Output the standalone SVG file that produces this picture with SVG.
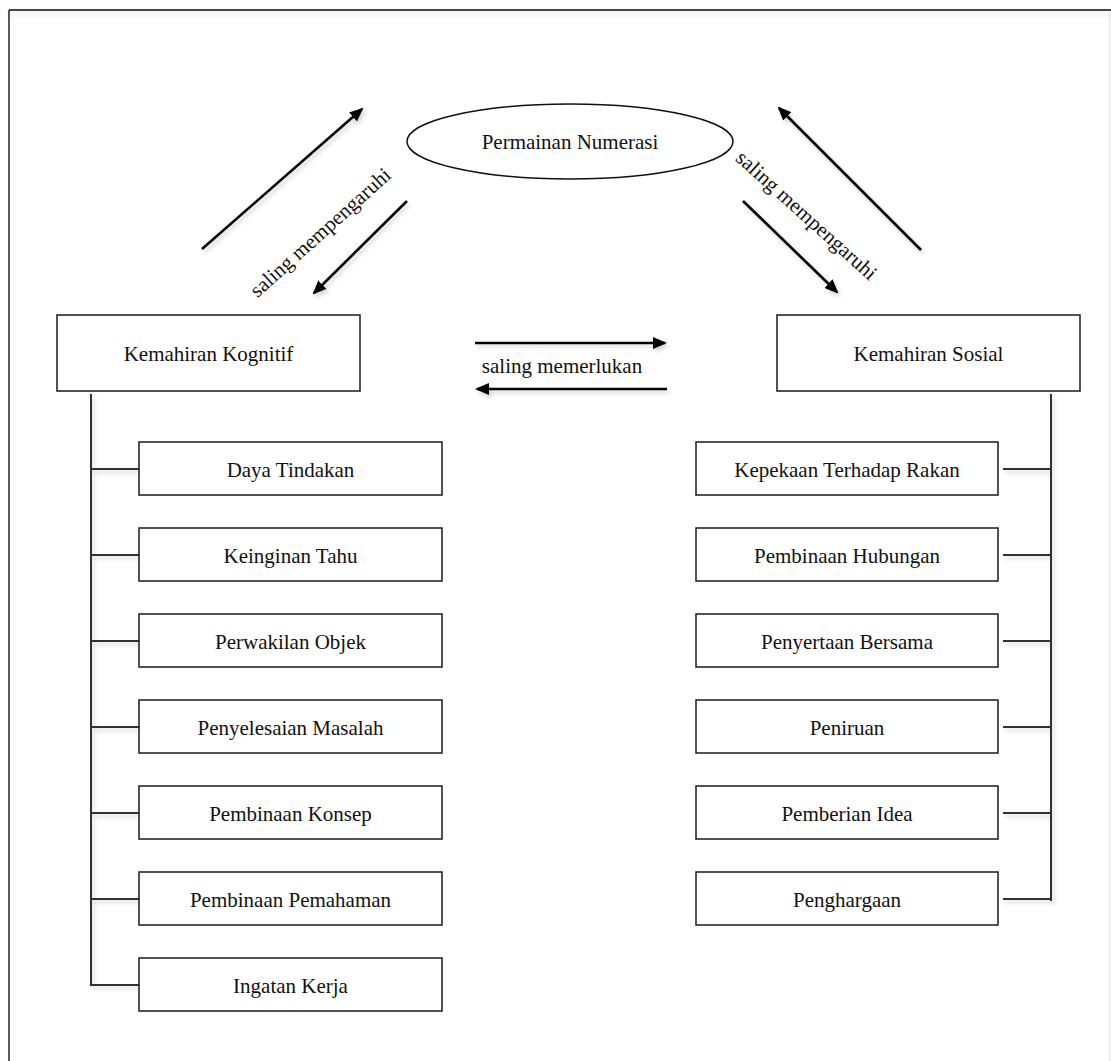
<svg xmlns="http://www.w3.org/2000/svg" width="1111" height="1061" viewBox="0 0 1111 1061">
<style>
.box{fill:#fff;stroke:#1a1a1a;stroke-width:1.5}
.lbl{font-family:"Liberation Serif","Times New Roman",serif;font-size:21px;fill:#111;text-anchor:middle}
.tree{stroke:#333;stroke-width:2;fill:none}
.arr{stroke:#000;stroke-width:2.6;fill:none}
</style>
<defs>
<filter id="sh" x="-20%" y="-20%" width="140%" height="160%">
<feDropShadow dx="2" dy="3" stdDeviation="2" flood-color="#000" flood-opacity="0.18"/>
</filter>
<filter id="shu" filterUnits="userSpaceOnUse" x="0" y="0" width="1111" height="40">
<feDropShadow dx="0" dy="3" stdDeviation="3" flood-color="#000" flood-opacity="0.15"/>
</filter>
<marker id="ah" viewBox="0 0 14 12" markerWidth="14" markerHeight="12" refX="12" refY="6" orient="auto" markerUnits="userSpaceOnUse">
<path d="M0,0 L14,6 L0,12 z" fill="#000"/>
</marker>
</defs>
<rect width="1111" height="1061" fill="#fff"/>
<g id="frame">
<line x1="1109.5" y1="12" x2="1109.5" y2="1061" stroke="#e6e6e6" stroke-width="1.5"/>
<line x1="9" y1="10" x2="1111" y2="10" stroke="#444" stroke-width="2" filter="url(#shu)"/>
<line x1="9" y1="10" x2="9" y2="1061" stroke="#222" stroke-width="1.5"/>
</g>
<g id="connectors">
<g filter="url(#sh)">
<line class="arr" x1="202" y1="249" x2="362" y2="109" marker-end="url(#ah)"/>
<line class="arr" x1="407" y1="201" x2="314" y2="293" marker-end="url(#ah)"/>
<line class="arr" x1="921" y1="250" x2="779" y2="108" marker-end="url(#ah)"/>
<line class="arr" x1="743" y1="201" x2="837" y2="292" marker-end="url(#ah)"/>
<line class="arr" x1="475" y1="343" x2="665" y2="343" marker-end="url(#ah)" stroke-width="3"/>
<line class="arr" x1="667" y1="389" x2="477" y2="389" marker-end="url(#ah)" stroke-width="3"/>
</g>
<g class="tree" filter="url(#sh)">
<path d="M91,394 V986"/>
<path d="M91,469 H139 M91,555 H139 M91,641 H139 M91,727 H139 M91,813 H139 M91,899 H139 M91,985 H139"/>
<path d="M1051,394 V901"/>
<path d="M1003,469 H1051 M1003,555 H1051 M1003,641 H1051 M1003,727 H1051 M1003,813 H1051 M1003,899 H1051"/>
</g>
<text class="lbl" transform="translate(321,233) rotate(-42)" x="0" y="6">saling mempengaruhi</text>
<text class="lbl" transform="translate(806,216) rotate(42)" x="0" y="6">saling mempengaruhi</text>
<text class="lbl" x="562" y="373">saling memerlukan</text>
</g>
<g id="permainan-numerasi">
<ellipse cx="570" cy="141.5" rx="163" ry="37.5" fill="#fff" stroke="#111" stroke-width="1.5"/>
<text class="lbl" x="570" y="149">Permainan Numerasi</text>
</g>
<g id="kemahiran-kognitif">
<rect class="box" x="57" y="315" width="303" height="76"/>
<text class="lbl" x="208.5" y="361">Kemahiran Kognitif</text>
</g>
<g id="kemahiran-sosial">
<rect class="box" x="777" y="315" width="303" height="76"/>
<text class="lbl" x="928.5" y="361">Kemahiran Sosial</text>
</g>
<g id="daya-tindakan"><rect class="box" x="139" y="442" width="303" height="53"/><text class="lbl" x="290.5" y="476.5">Daya Tindakan</text></g>
<g id="keinginan-tahu"><rect class="box" x="139" y="528" width="303" height="53"/><text class="lbl" x="290.5" y="562.5">Keinginan Tahu</text></g>
<g id="perwakilan-objek"><rect class="box" x="139" y="614" width="303" height="53"/><text class="lbl" x="290.5" y="648.5">Perwakilan Objek</text></g>
<g id="penyelesaian-masalah"><rect class="box" x="139" y="700" width="303" height="53"/><text class="lbl" x="290.5" y="734.5">Penyelesaian Masalah</text></g>
<g id="pembinaan-konsep"><rect class="box" x="139" y="786" width="303" height="53"/><text class="lbl" x="290.5" y="820.5">Pembinaan Konsep</text></g>
<g id="pembinaan-pemahaman"><rect class="box" x="139" y="872" width="303" height="53"/><text class="lbl" x="290.5" y="906.5">Pembinaan Pemahaman</text></g>
<g id="ingatan-kerja"><rect class="box" x="139" y="958" width="303" height="53"/><text class="lbl" x="290.5" y="992.5">Ingatan Kerja</text></g>
<g id="kepekaan-terhadap-rakan"><rect class="box" x="696" y="442" width="302" height="53"/><text class="lbl" x="847" y="476.5">Kepekaan Terhadap Rakan</text></g>
<g id="pembinaan-hubungan"><rect class="box" x="696" y="528" width="302" height="53"/><text class="lbl" x="847" y="562.5">Pembinaan Hubungan</text></g>
<g id="penyertaan-bersama"><rect class="box" x="696" y="614" width="302" height="53"/><text class="lbl" x="847" y="648.5">Penyertaan Bersama</text></g>
<g id="peniruan"><rect class="box" x="696" y="700" width="302" height="53"/><text class="lbl" x="847" y="734.5">Peniruan</text></g>
<g id="pemberian-idea"><rect class="box" x="696" y="786" width="302" height="53"/><text class="lbl" x="847" y="820.5">Pemberian Idea</text></g>
<g id="penghargaan"><rect class="box" x="696" y="872" width="302" height="53"/><text class="lbl" x="847" y="906.5">Penghargaan</text></g>
</svg>
